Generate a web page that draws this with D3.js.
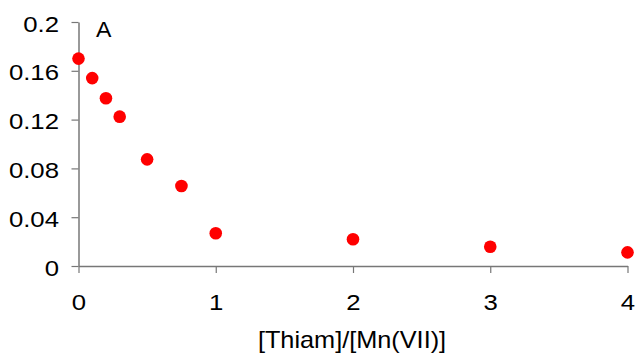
<!DOCTYPE html>
<html><head><meta charset="utf-8">
<script src="https://cdn.jsdelivr.net/npm/d3@7"></script>
<style>body{margin:0;background:#fff}svg{display:block}text{font-family:"Liberation Sans",Arial,sans-serif;fill:#000}</style>
</head><body><svg id="c" width="637" height="359"></svg>
<script>
const ratio = [0, 0.1, 0.2, 0.3, 0.5, 0.75, 1, 2, 3, 4];
const values = [0.170, 0.154, 0.1375, 0.1224, 0.0874, 0.0656, 0.0268, 0.0219, 0.0158, 0.0112];
const xTicks = [0, 1, 2, 3, 4];
const yTicks = [0, 0.04, 0.08, 0.12, 0.16, 0.2];
const xTitle = "[Thiam]/[Mn(VII)]";
const panelLabel = "A";

const FS = 23, SX = 1.12;
const svg = d3.select("#c");
const x = d3.scaleLinear().domain([0, 4]).range([78.5, 627.5]);
const y = d3.scaleLinear().domain([0, 0.2]).range([266, 22]);
const axisColor = "#777";

const gx = svg.append("g").attr("transform", "translate(0,266)")
  .call(d3.axisBottom(x).tickValues(xTicks).tickFormat(d3.format("d")).tickSize(7).tickSizeOuter(0));
const gy = svg.append("g").attr("transform", "translate(78.5,0)")
  .call(d3.axisLeft(y).tickValues(yTicks).tickFormat(d => d === 0 ? "0" : String(+d.toFixed(2))).tickSize(7).tickSizeOuter(0));
[gx, gy].forEach(g => {
  g.select(".domain").attr("stroke", axisColor).attr("stroke-width", 1.5);
  g.selectAll(".tick line").attr("stroke", axisColor).attr("stroke-width", 1.2);
  g.selectAll("text").style("font-size", FS + "px").attr("fill", "#000").attr("x", 0).attr("y", 0).attr("dy", 0);
});
gy.selectAll("text").attr("transform", `translate(-19.5,9) scale(${SX},1)`);
gx.selectAll("text").attr("transform", `translate(0,44) scale(${SX},1)`);

svg.append("g").selectAll("circle").data(ratio).join("circle")
  .attr("cx", (d) => x(d)).attr("cy", (d, i) => y(values[i])).attr("r", 6.3).attr("fill", "#ff0000");

svg.append("text").attr("transform", `translate(352,348) scale(1.1,1)`).attr("text-anchor", "middle").style("font-size", FS + "px").text(xTitle);
svg.append("text").attr("transform", `translate(96,37) scale(1.05,1)`).style("font-size", "22px").text(panelLabel);
</script></body></html>
